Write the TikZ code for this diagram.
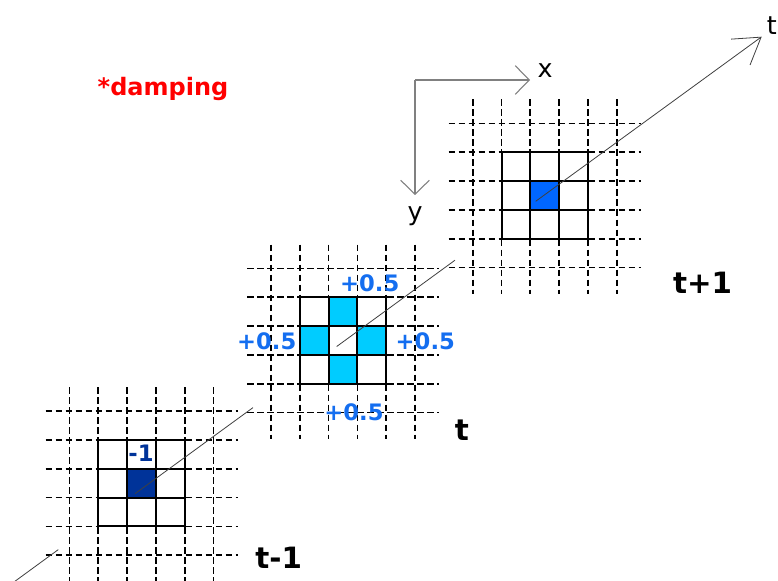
\documentclass[tikz,border=0pt]{standalone}
\usepackage{fontspec}
\setsansfont{DejaVu Sans}
\usepackage{xcolor}
\usepackage{tikz}
\usetikzlibrary{arrows.meta}

\definecolor{deepblue}{RGB}{0,51,153}
\definecolor{brightblue}{RGB}{0,102,255}
\definecolor{skyblue}{RGB}{0,204,255}
\definecolor{halfblue}{RGB}{20,110,240}

\begin{document}
\begin{tikzpicture}[
  x=0.75pt, y=-0.75pt,
  dashgrid/.style={line width=1.25pt, dash pattern=on 5pt off 2.5pt},
  solidgrid/.style={line width=1.5pt},
  axisarrow/.style={draw=gray, line width=0.8pt, -{Straight Barb[length=10.5pt,width=21.5pt]}},
  timeaxis/.style={draw=black!75, line width=0.6pt},
  axislabel/.style={font=\sffamily\fontsize{19}{22}\selectfont},
  steplabel/.style={font=\sffamily\bfseries\fontsize{22}{26}\selectfont, anchor=base},
  weightlbl/.style={font=\sffamily\bfseries\fontsize{17}{20}\selectfont, anchor=base, text=halfblue}
]
\useasboundingbox[fill=white] (0,0) rectangle (778,581);

% filled cells
\begin{scope}[shift={(69.5,411.2)}]
  \fill[deepblue] (57.6,57.6) rectangle ++(28.8,28.8);
\end{scope}
\begin{scope}[shift={(271,268.5)}]
  \foreach \c/\r in {2/1, 1/2, 3/2, 2/3}
    \fill[skyblue] (\c*28.8,\r*28.8) rectangle ++(28.8,28.8);
\end{scope}
\begin{scope}[shift={(472.7,123.5)}]
  \fill[brightblue] (57.6,57.6) rectangle ++(28.8,28.8);
\end{scope}

% the three planes
\foreach \ox/\oy in {69.5/411.2, 271/268.5, 472.7/123.5} {
  \begin{scope}[shift={(\ox,\oy)}]
    \foreach \i in {0,...,5} {
      \draw[dashgrid] (-24,\i*28.8) -- (168,\i*28.8);
      \draw[dashgrid] (\i*28.8,-24) -- (\i*28.8,170);
    }
    \draw[solidgrid] (28.8,28.8) rectangle (115.2,115.2);
    \foreach \k in {57.6, 86.4} {
      \draw[solidgrid] (\k,28.8) -- (\k,115.2);
      \draw[solidgrid] (28.8,\k) -- (115.2,\k);
    }
  \end{scope}
}

% time axis, hidden behind each plane
\coordinate (ta) at (10,584.9);
\coordinate (tb) at (58.3,549.6);
\coordinate (tc) at (135,493.7);
\coordinate (td) at (253,407.6);
\coordinate (te) at (336.7,346.5);
\coordinate (tf) at (455,260.2);
\coordinate (tg) at (535.7,201.3);
\coordinate (tip) at (761.7,36.7);
\draw[timeaxis] (ta) -- (tb);
\draw[timeaxis] (tc) -- (td);
\draw[timeaxis] (te) -- (tf);
\draw[timeaxis, -{Straight Barb[length=19pt,width=24pt]}] (tg) -- (tip);

% x and y axes
\coordinate (corner) at (415,80);
\coordinate (xend) at (530,80);
\coordinate (yend) at (415,195);
\draw[axisarrow] (corner) -- (xend);
\draw[axisarrow] (corner) -- (yend);

\node[axislabel] (xlbl) at (545,71) {x};
\node[axislabel] (ylbl) at (415,216.5) {y};
\node[axislabel, anchor=base west, inner sep=0pt] (tlbl) at (766.5,35) {t};

% labels
\node[font=\sffamily\bfseries\fontsize{18}{21}\selectfont, text=red, anchor=base] (damp) at (163,95.7) {*damping};
\node[steplabel] (lprev) at (278.7,568.3) {t-1};
\node[steplabel] (lnow) at (462,440) {t};
\node[steplabel] (lnext) at (702.5,293.3) {t+1};

\node[weightlbl, text=deepblue] (wneg) at (141,461) {-1};
\node[weightlbl] (wtop) at (369.7,291.7) {+0.5};
\node[weightlbl] (wleft) at (266.7,349.3) {+0.5};
\node[weightlbl] (wright) at (425.3,349.3) {+0.5};
\node[weightlbl] (wbottom) at (354,420) {+0.5};
\end{tikzpicture}
\end{document}
